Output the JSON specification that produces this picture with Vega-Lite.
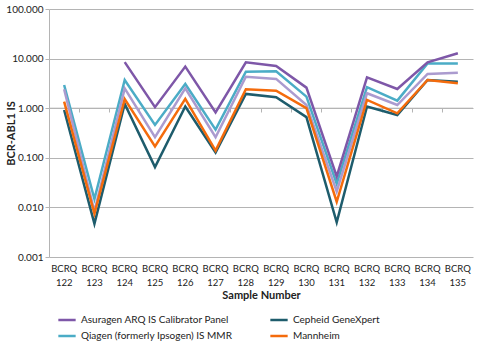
{
  "$schema": "https://vega.github.io/schema/vega-lite/v6.json",
  "width": 424,
  "height": 248,
  "autosize": "none",
  "padding": {"left": 49, "top": 9, "right": 27, "bottom": 98},
  "background": "white",
  "config": {
    "view": {"stroke": null},
    "font": "Lato",
    "axis": {"labelFont": "Lato", "titleFont": "Lato", "labelColor": "#222", "titleColor": "#222"}
  },
  "data": {"values": [
    {"sample": "BCRQ 122", "series": "Qiagen (formerly Ipsogen) IS MMR", "value": 2.94},
    {"sample": "BCRQ 123", "series": "Qiagen (formerly Ipsogen) IS MMR", "value": 0.0148},
    {"sample": "BCRQ 124", "series": "Qiagen (formerly Ipsogen) IS MMR", "value": 3.7},
    {"sample": "BCRQ 125", "series": "Qiagen (formerly Ipsogen) IS MMR", "value": 0.46},
    {"sample": "BCRQ 126", "series": "Qiagen (formerly Ipsogen) IS MMR", "value": 3.08},
    {"sample": "BCRQ 127", "series": "Qiagen (formerly Ipsogen) IS MMR", "value": 0.37},
    {"sample": "BCRQ 128", "series": "Qiagen (formerly Ipsogen) IS MMR", "value": 5.45},
    {"sample": "BCRQ 129", "series": "Qiagen (formerly Ipsogen) IS MMR", "value": 5.55},
    {"sample": "BCRQ 130", "series": "Qiagen (formerly Ipsogen) IS MMR", "value": 1.71},
    {"sample": "BCRQ 131", "series": "Qiagen (formerly Ipsogen) IS MMR", "value": 0.03},
    {"sample": "BCRQ 132", "series": "Qiagen (formerly Ipsogen) IS MMR", "value": 2.65},
    {"sample": "BCRQ 133", "series": "Qiagen (formerly Ipsogen) IS MMR", "value": 1.42},
    {"sample": "BCRQ 134", "series": "Qiagen (formerly Ipsogen) IS MMR", "value": 8.0},
    {"sample": "BCRQ 135", "series": "Qiagen (formerly Ipsogen) IS MMR", "value": 8.0},

    {"sample": "BCRQ 122", "series": "Other", "value": 2.41},
    {"sample": "BCRQ 123", "series": "Other", "value": 0.0083},
    {"sample": "BCRQ 124", "series": "Other", "value": 2.5},
    {"sample": "BCRQ 125", "series": "Other", "value": 0.26},
    {"sample": "BCRQ 126", "series": "Other", "value": 2.5},
    {"sample": "BCRQ 127", "series": "Other", "value": 0.26},
    {"sample": "BCRQ 128", "series": "Other", "value": 4.3},
    {"sample": "BCRQ 129", "series": "Other", "value": 3.9},
    {"sample": "BCRQ 130", "series": "Other", "value": 1.16},
    {"sample": "BCRQ 131", "series": "Other", "value": 0.021},
    {"sample": "BCRQ 132", "series": "Other", "value": 2.0},
    {"sample": "BCRQ 133", "series": "Other", "value": 1.16},
    {"sample": "BCRQ 134", "series": "Other", "value": 4.9},
    {"sample": "BCRQ 135", "series": "Other", "value": 5.2},

    {"sample": "BCRQ 122", "series": "Cepheid GeneXpert", "value": 0.92},
    {"sample": "BCRQ 123", "series": "Cepheid GeneXpert", "value": 0.0047},
    {"sample": "BCRQ 124", "series": "Cepheid GeneXpert", "value": 1.22},
    {"sample": "BCRQ 125", "series": "Cepheid GeneXpert", "value": 0.065},
    {"sample": "BCRQ 126", "series": "Cepheid GeneXpert", "value": 1.08},
    {"sample": "BCRQ 127", "series": "Cepheid GeneXpert", "value": 0.128},
    {"sample": "BCRQ 128", "series": "Cepheid GeneXpert", "value": 1.94},
    {"sample": "BCRQ 129", "series": "Cepheid GeneXpert", "value": 1.66},
    {"sample": "BCRQ 130", "series": "Cepheid GeneXpert", "value": 0.66},
    {"sample": "BCRQ 131", "series": "Cepheid GeneXpert", "value": 0.005},
    {"sample": "BCRQ 132", "series": "Cepheid GeneXpert", "value": 1.08},
    {"sample": "BCRQ 133", "series": "Cepheid GeneXpert", "value": 0.73},
    {"sample": "BCRQ 134", "series": "Cepheid GeneXpert", "value": 3.7},
    {"sample": "BCRQ 135", "series": "Cepheid GeneXpert", "value": 3.4},

    {"sample": "BCRQ 122", "series": "Mannheim", "value": 1.36},
    {"sample": "BCRQ 123", "series": "Mannheim", "value": 0.0075},
    {"sample": "BCRQ 124", "series": "Mannheim", "value": 1.52},
    {"sample": "BCRQ 125", "series": "Mannheim", "value": 0.17},
    {"sample": "BCRQ 126", "series": "Mannheim", "value": 1.54},
    {"sample": "BCRQ 127", "series": "Mannheim", "value": 0.14},
    {"sample": "BCRQ 128", "series": "Mannheim", "value": 2.41},
    {"sample": "BCRQ 129", "series": "Mannheim", "value": 2.26},
    {"sample": "BCRQ 130", "series": "Mannheim", "value": 1.0},
    {"sample": "BCRQ 131", "series": "Mannheim", "value": 0.013},
    {"sample": "BCRQ 132", "series": "Mannheim", "value": 1.47},
    {"sample": "BCRQ 133", "series": "Mannheim", "value": 0.79},
    {"sample": "BCRQ 134", "series": "Mannheim", "value": 3.7},
    {"sample": "BCRQ 135", "series": "Mannheim", "value": 3.2},

    {"sample": "BCRQ 124", "series": "Asuragen ARQ IS Calibrator Panel", "value": 8.5},
    {"sample": "BCRQ 125", "series": "Asuragen ARQ IS Calibrator Panel", "value": 1.05},
    {"sample": "BCRQ 126", "series": "Asuragen ARQ IS Calibrator Panel", "value": 6.9},
    {"sample": "BCRQ 127", "series": "Asuragen ARQ IS Calibrator Panel", "value": 0.82},
    {"sample": "BCRQ 128", "series": "Asuragen ARQ IS Calibrator Panel", "value": 8.4},
    {"sample": "BCRQ 129", "series": "Asuragen ARQ IS Calibrator Panel", "value": 7.1},
    {"sample": "BCRQ 130", "series": "Asuragen ARQ IS Calibrator Panel", "value": 2.6},
    {"sample": "BCRQ 131", "series": "Asuragen ARQ IS Calibrator Panel", "value": 0.042},
    {"sample": "BCRQ 132", "series": "Asuragen ARQ IS Calibrator Panel", "value": 4.2},
    {"sample": "BCRQ 133", "series": "Asuragen ARQ IS Calibrator Panel", "value": 2.44},
    {"sample": "BCRQ 134", "series": "Asuragen ARQ IS Calibrator Panel", "value": 8.4},
    {"sample": "BCRQ 135", "series": "Asuragen ARQ IS Calibrator Panel", "value": 12.8}
  ]},
  "resolve": {"axis": {"x": "independent"}},
  "encoding": {
    "y": {"field": "value", "type": "quantitative",
          "scale": {"type": "log", "domain": [0.001, 100]},
          "axis": {"title": "BCR-ABL1 IS", "titleFontSize": 11, "titleFontWeight": "bold", "titleX": -33,
                   "values": [0.001, 0.01, 0.1, 1, 10, 100], "format": ".3f", "labelFontSize": 10, "labelPadding": 2,
                   "tickSize": 4, "tickColor": "#b4b4b4", "domainColor": "#b4b4b4", "gridColor": "#b4b4b4"}}
  },
  "layer": [
    {
      "data": {"values": [{"value": 1}]},
      "mark": {"type": "rule", "color": "#b4b4b4", "strokeWidth": 1},
      "encoding": {}
    },
    {
      "mark": {"type": "line", "strokeWidth": 2.5, "opacity": 0},
      "encoding": {
        "x": {"field": "sample", "type": "nominal", "sort": null,
              "scale": {"type": "band", "paddingInner": 0, "paddingOuter": 0},
              "axis": {"orient": "bottom", "offset": -149, "labels": false, "title": null, "domain": false, "ticks": true, "tickColor": "#b4b4b4", "tickSize": 4, "bandPosition": 0, "grid": false}}
      }
    },
    {
      "mark": {"type": "line", "strokeWidth": 2.5},
      "encoding": {
        "x": {"field": "sample", "type": "nominal", "sort": null, "bandPosition": 0.5,
              "scale": {"type": "band", "paddingInner": 0, "paddingOuter": 0},
              "axis": {"orient": "bottom", "title": "Sample Number", "titleFontSize": 11, "titleFontWeight": "bold", "titlePadding": 3,
                       "labelExpr": "split(datum.label, ' ')", "labelFontSize": 9.5, "labelLineHeight": 14, "labelAngle": 0, "labelPadding": 6,
                       "domain": false, "ticks": false, "grid": false}},
        "color": {"field": "series", "type": "nominal",
                  "scale": {"domain": ["Asuragen ARQ IS Calibrator Panel", "Cepheid GeneXpert", "Qiagen (formerly Ipsogen) IS MMR", "Mannheim", "Other"],
                            "range": ["#7e57a8", "#1e5c6c", "#4bacc6", "#f46b0c", "#ab9bcf"]},
                  "legend": {"title": null, "orient": "none", "legendX": 8, "legendY": 301, "direction": "horizontal", "columns": 2,
                             "values": ["Asuragen ARQ IS Calibrator Panel", "Cepheid GeneXpert", "Qiagen (formerly Ipsogen) IS MMR", "Mannheim"],
                             "symbolType": "stroke", "symbolStrokeWidth": 2.5, "symbolSize": 300, "labelFontSize": 10, "labelColor": "#222", "labelLimit": 250,
                             "columnPadding": 32, "rowPadding": 1}}
      }
    }
  ]
}
